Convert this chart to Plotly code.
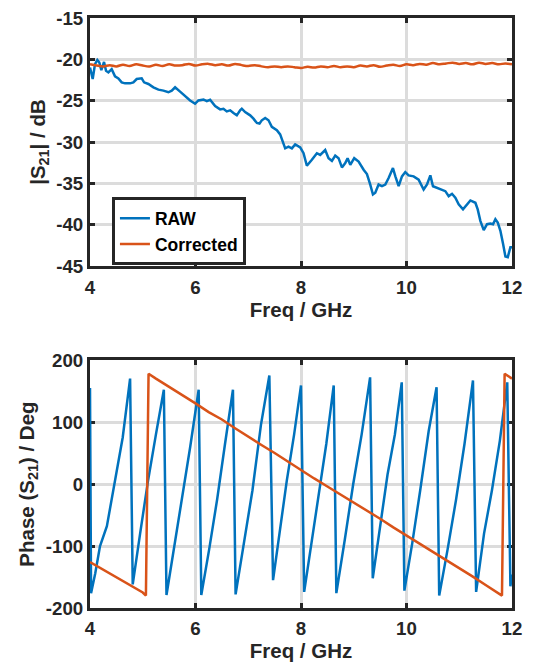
import numpy as np
import plotly.graph_objects as go
from plotly.subplots import make_subplots

# ---------------- data ----------------
raw_mag_f = [4.000, 4.051, 4.095, 4.139, 4.177, 4.215, 4.266, 4.304, 4.348, 4.411,
             4.474, 4.538, 4.601, 4.664, 4.759, 4.822, 4.885, 4.980, 5.025, 5.107,
             5.202, 5.297, 5.392, 5.486, 5.550, 5.613, 5.708, 5.803, 5.898, 5.992,
             6.056, 6.151, 6.214, 6.277, 6.372, 6.467, 6.530, 6.593, 6.657, 6.720,
             6.783, 6.846, 6.878, 6.941, 7.036, 7.099, 7.163, 7.213, 7.257, 7.321,
             7.384, 7.447, 7.542, 7.605, 7.669, 7.700, 7.763, 7.827, 7.890, 7.985,
             8.048, 8.111, 8.206, 8.301, 8.364, 8.459, 8.522, 8.586, 8.649, 8.712,
             8.776, 8.839, 8.883, 8.934, 9.009, 9.092, 9.187, 9.250, 9.313, 9.364,
             9.408, 9.471, 9.535, 9.598, 9.661, 9.743, 9.789, 9.851, 9.914, 9.977,
             10.040, 10.135, 10.230, 10.325, 10.389, 10.452, 10.502, 10.578, 10.673, 10.736,
             10.800, 10.863, 10.926, 10.989, 11.071, 11.147, 11.211, 11.306, 11.350, 11.400,
             11.464, 11.527, 11.590, 11.641, 11.685, 11.730, 11.780, 11.831, 11.875, 11.920,
             11.970, 12.000]
raw_mag_db = [-20.98, -22.38, -20.58, -20.07, -20.38, -21.30, -20.31, -21.38, -21.58, -21.18,
              -22.06, -22.30, -22.78, -22.90, -22.90, -22.78, -22.38, -22.30, -22.78, -22.98,
              -23.38, -23.66, -23.78, -23.98, -23.78, -23.38, -23.90, -24.49, -24.97, -25.37,
              -24.97, -24.85, -25.05, -24.89, -25.65, -26.05, -25.97, -26.29, -26.17, -26.49,
              -26.77, -26.17, -25.97, -26.37, -26.77, -27.17, -27.69, -27.76, -27.37, -27.09,
              -27.37, -28.16, -28.56, -29.08, -30.36, -30.76, -30.56, -30.76, -30.28, -30.64,
              -31.35, -32.87, -32.15, -31.35, -31.55, -30.96, -31.95, -32.27, -31.63, -31.95,
              -33.07, -32.55, -31.95, -32.75, -31.95, -32.35, -33.35, -33.87, -35.14, -36.34,
              -36.14, -35.14, -35.34, -35.14, -34.35, -33.15, -34.15, -35.34, -34.15, -33.63,
              -34.03, -34.15, -34.55, -35.74, -35.14, -34.03, -35.34, -35.54, -35.86, -35.94,
              -36.54, -36.26, -36.74, -37.54, -38.14, -37.54, -37.06, -37.34, -38.14, -39.53,
              -40.65, -39.93, -39.85, -39.93, -39.33, -39.73, -40.73, -42.32, -43.84, -43.92,
              -42.72, -42.72]

corr_mag_f = [4.0 + 0.125 * i for i in range(65)]
corr_mag_db = [-20.60, -20.75, -20.85, -20.70, -20.85, -20.65, -20.80, -20.60,
               -20.75, -20.85, -20.65, -20.80, -20.60, -20.75, -20.70, -20.55,
               -20.75, -20.60, -20.55, -20.70, -20.60, -20.75, -20.55, -20.70,
               -20.80, -20.70, -20.85, -20.95, -20.85, -20.95, -20.85, -20.95,
               -21.05, -20.90, -21.00, -20.85, -20.95, -20.80, -20.95, -20.85,
               -20.95, -20.75, -20.85, -20.70, -20.90, -20.75, -20.65, -20.80,
               -20.60, -20.70, -20.55, -20.65, -20.45, -20.60, -20.50, -20.40,
               -20.55, -20.45, -20.60, -20.40, -20.55, -20.45, -20.60, -20.50,
               -20.60]

raw_ph_f = [4.00, 4.02, 4.10, 4.19, 4.32, 4.47, 4.62, 4.76,
            4.81, 4.95, 5.10, 5.25, 5.40,
            5.45, 5.60, 5.75, 5.90, 6.06,
            6.11, 6.26, 6.41, 6.56, 6.71,
            6.76, 6.92, 7.08, 7.24, 7.40,
            7.47, 7.60, 7.73, 7.87, 8.00,
            8.06, 8.20, 8.34, 8.48, 8.62,
            8.67, 8.83, 8.99, 9.15, 9.31,
            9.36, 9.50, 9.64, 9.78, 9.91,
            9.96, 10.11, 10.26, 10.42, 10.57,
            10.62, 10.78, 10.94, 11.10, 11.26,
            11.32, 11.47, 11.62, 11.77, 11.91,
            11.97, 12.00]
raw_ph_deg = [155, -176, -144, -100, -68, 7, 75, 170,
              -162, -80, 5, 80, 152,
              -179, -100, -25, 60, 152,
              -179, -105, -25, 65, 152,
              -178, -95, -10, 95, 175,
              -155, -75, 5, 80, 159,
              -174, -95, -15, 65, 159,
              -176, -90, 0, 80, 172,
              -152, -65, 15, 80, 164,
              -172, -95, -10, 85, 156,
              -180, -105, -25, 65, 167,
              -174, -80, -10, 70, 164,
              -165, -146]

corr_ph_f = [4.0, 4.25, 4.5, 4.75, 5.0, 5.06, 5.11, 5.25, 5.5, 5.75, 6.0, 6.25, 6.5,
             6.75, 7.0, 7.25, 7.5, 7.75, 8.0, 8.25, 8.5, 8.75, 9.0, 9.25, 9.5, 9.75,
             10.0, 10.25, 10.5, 10.75, 11.0, 11.25, 11.5, 11.75, 11.81, 11.86, 12.0]
corr_ph_deg = [-126, -138, -150, -163, -175, -180, 178, 170, 157, 144, 130, 116, 104,
               90, 76, 63, 50, 36, 23, 9, -4, -17, -30, -42, -56, -70,
               -83, -96, -110, -123, -135, -149, -163, -177, -180, 178, 170]

x_ticks = [4, 6, 8, 10, 12]
mag_ticks = [-45, -40, -35, -30, -25, -20, -15]
ph_ticks = [-200, -100, 0, 100, 200]

# ---------------- style ----------------
BLUE = "#0072BD"
ORANGE = "#D95319"
AX = "#262626"
GRID = "#dcdcdc"
FONT = "Liberation Sans"
TICK_SIZE = 18.7
TITLE_SIZE = 20.5

fig = make_subplots(rows=2, cols=1, vertical_spacing=0.1)

fig.add_trace(go.Scatter(x=raw_mag_f, y=raw_mag_db, mode="lines", name="RAW",
                         line=dict(color=BLUE, width=2.5)), row=1, col=1)
fig.add_trace(go.Scatter(x=corr_mag_f, y=corr_mag_db, mode="lines", name="Corrected",
                         line=dict(color=ORANGE, width=2.5, shape="spline")), row=1, col=1)
fig.add_trace(go.Scatter(x=raw_ph_f, y=raw_ph_deg, mode="lines", showlegend=False,
                         line=dict(color=BLUE, width=2.5)), row=2, col=1)
fig.add_trace(go.Scatter(x=corr_ph_f, y=corr_ph_deg, mode="lines", showlegend=False,
                         line=dict(color=ORANGE, width=2.5)), row=2, col=1)

axis_common = dict(showline=True, linecolor=AX, linewidth=3, mirror="ticks",
                   ticks="inside", ticklen=5, tickwidth=3, tickcolor=AX,
                   showgrid=True, gridcolor=GRID, gridwidth=3, zeroline=False,
                   automargin=False, layer="below traces",
                   ticklabeloverflow="allow",
                   tickfont=dict(family=FONT, size=TICK_SIZE, color=AX, weight="bold"))

title_font = dict(family=FONT, size=TITLE_SIZE, color=AX, weight="bold")

for r in (1, 2):
    fig.update_xaxes(range=[4, 12], tickvals=x_ticks, ticktext=[str(t) for t in x_ticks],
                     ticklabelstandoff=2,
                     title=dict(text="Freq / GHz", standoff=3, font=title_font),
                     row=r, col=1, **axis_common)

fig.update_yaxes(range=[-45, -15], tickvals=mag_ticks, ticktext=[str(t) for t in mag_ticks],
                 title=dict(text="|S<sub>21</sub>| / dB", standoff=6, font=title_font),
                 row=1, col=1, **axis_common)
fig.update_yaxes(range=[-200, 200], tickvals=ph_ticks, ticktext=[str(t) for t in ph_ticks],
                 title=dict(text="Phase (S<sub>21</sub>) / Deg", standoff=6, font=title_font),
                 row=2, col=1, **axis_common)

fig.update_layout(
    width=530, height=658,
    margin=dict(l=82, r=26, t=10, b=58, autoexpand=False),
    plot_bgcolor="white", paper_bgcolor="white",
    xaxis=dict(domain=[0, 1]), xaxis2=dict(domain=[0, 1]),
    yaxis=dict(domain=[0.5795, 1.0]), yaxis2=dict(domain=[0.0, 0.4203]),
    legend=dict(x=0.052, y=0.696, xanchor="left", yanchor="top",
                bgcolor="white", bordercolor=AX, borderwidth=3,
                font=dict(family=FONT, size=17.5, color="black", weight="bold"),
                tracegroupgap=0, itemwidth=30),
    showlegend=True,
)

fig.write_html("out.html")
